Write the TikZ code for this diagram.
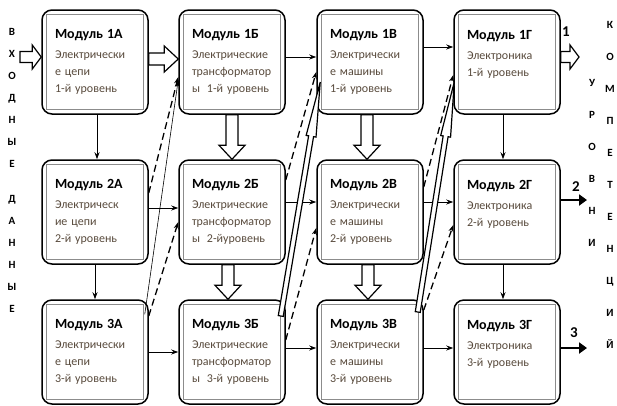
\documentclass[tikz,border=0pt]{standalone}
\usepackage{fontspec}
\setmainfont{Carlito}
\usetikzlibrary{arrows.meta, calc}

\definecolor{bodybrown}{RGB}{88, 74, 60}
\definecolor{innergray}{RGB}{140, 140, 140}

% module title line
\newcommand{\modtitle}[1]{{\color{black}\bfseries\fontsize{14}{17}\selectfont #1}\\[3pt]}

% hollow block arrow: from, to, half shaft, half head, head length
\newcommand{\hollowarrow}[5]{%
  \path let \p1=#1, \p2=#2 in \pgfextra{%
    \pgfmathsetmacro\tmpang{atan2(\y2-\y1,\x2-\x1)}\xdef\haang{\tmpang}%
    \pgfmathsetmacro\tmplen{veclen(\x2-\x1,\y2-\y1)}\xdef\halen{\tmplen}};
  \begin{scope}[shift={#1}, rotate=\haang]
    \draw[fatarrow] (0pt,-#3) -- ({\halen pt-#5},-#3) -- ({\halen pt-#5},-#4)
      -- (\halen pt,0pt) -- ({\halen pt-#5},#4) -- ({\halen pt-#5},#3) -- (0pt,#3) -- cycle;
  \end{scope}}

\begin{document}
\begin{tikzpicture}[x=1pt, y=-1pt,
  module/.style={draw, line width=1.5pt, rounded corners=10pt,
    minimum width=106pt, minimum height=104pt, text width=80pt, inner xsep=13pt,
    align=left, text=bodybrown, font=\fontsize{12}{17}\selectfont,
    path picture={\draw[innergray, line width=1pt, sharp corners]
      ([shift={(4.5pt,-4.5pt)}]path picture bounding box.north west) rectangle
      ([shift={(-4.5pt,4.5pt)}]path picture bounding box.south east);}},
  letters/.style={align=center, font=\fontsize{11}{22}\selectfont\bfseries, inner sep=0pt},
  link/.style={line width=1pt, -{Stealth[length=7pt, width=5pt]}},
  dashlink/.style={link, line width=1.3pt, dash pattern=on 7pt off 4pt},
  outlink/.style={line width=2.6pt, -{Triangle[length=8pt, width=11pt]}},
  fatarrow/.style={draw, line width=1.2pt, fill=white, line join=miter},
  outnum/.style={font=\fontsize{15}{15}\selectfont\bfseries, inner sep=0pt}]
  \useasboundingbox (0,0) rectangle (617,405);

  % first row
  \node[module] (m1a) at (95,62) {\modtitle{Модуль 1А}Электрически\\е цепи\\1-й уровень};
  \node[module] (m1b) at (232,62) {\modtitle{Модуль 1Б}Электрические\\трансформатор\\\mbox{ы\hspace{7pt}1-й уровень}};
  \node[module] (m1v) at (370,62) {\modtitle{Модуль 1В}Электрически\\е машины\\1-й уровень};
  \node[module] (m1g) at (507,62) {\modtitle{Модуль 1Г}Электроника\\1-й уровень\\\mbox{}};

  % second row
  \node[module] (m2a) at (95,212) {\modtitle{Модуль 2А}Электрическ\\ие цепи\\2-й уровень};
  \node[module] (m2b) at (232,212) {\modtitle{Модуль 2Б}Электрические\\трансформатор\\\mbox{ы\hspace{7pt}2-йуровень}};
  \node[module] (m2v) at (370,212) {\modtitle{Модуль 2В}Электрически\\е машины\\2-й уровень};
  \node[module] (m2g) at (507,212) {\modtitle{Модуль 2Г}Электроника\\2-й уровень\\\mbox{}};

  % third row
  \node[module] (m3a) at (95,352) {\modtitle{Модуль 3А}Электрически\\е цепи\\3-й уровень};
  \node[module] (m3b) at (232,352) {\modtitle{Модуль 3Б}Электрические\\трансформатор\\\mbox{ы\hspace{7pt}3-й уровень}};
  \node[module] (m3v) at (370,352) {\modtitle{Модуль 3В}Электрически\\е машины\\3-й уровень};
  \node[module] (m3g) at (507,352) {\modtitle{Модуль 3Г}Электроника\\3-й уровень\\\mbox{}};

  % side labels
  \node[letters] (inputs) at (12,170) {В\\Х\\О\\Д\\Н\\Ы\\Е\\[13pt]Д\\А\\Н\\Н\\Ы\\Е};
  \node[letters, font=\fontsize{11}{32}\selectfont\bfseries] (levels) at (592,163) {У\\Р\\О\\В\\Н\\И};
  \node[letters, font=\fontsize{11}{32}\selectfont\bfseries] (competencies) at (610,185) {К\\О\\М\\П\\Е\\Т\\Е\\Н\\Ц\\И\\Й};

  % outputs
  \coordinate (in) at (20,57);
  \coordinate (out1) at (579,57);
  \coordinate (out2) at (587,200);
  \coordinate (out3) at (587,348);
  \node[outnum] (n1) at (566,32) {1};
  \node[outnum] (n2) at (576,187) {2};
  \node[outnum] (n3) at (574,333) {3};

  % horizontal links
  \hollowarrow{(in)}{([yshift=5pt]m1a.west)}{5.5pt}{12pt}{9pt}
  \hollowarrow{([yshift=3pt]m1a.east)}{([yshift=3pt]m1b.west)}{6pt}{13pt}{14pt}
  \draw[link] ([yshift=5pt]m1b.east) -- ([yshift=5pt]m1v.west);
  \draw[link] ([yshift=15pt]m1v.east) -- ([yshift=15pt]m1g.west);
  \hollowarrow{([yshift=5pt]m1g.east)}{(out1)}{5.5pt}{12pt}{9pt}

  \draw[link] ([yshift=4pt]m2a.east) -- ([yshift=4pt]m2b.west);
  \draw[link] ([yshift=10pt]m2b.east) -- ([yshift=10pt]m2v.west);
  \draw[link] ([yshift=10pt]m2v.east) -- ([yshift=10pt]m2g.west);
  \draw[outlink] ([yshift=12pt]m2g.east) -- (out2);

  \draw[link] (m3a.east) -- (m3b.west);
  \draw[link] ([yshift=4pt]m3b.east) -- ([yshift=4pt]m3v.west);
  \draw[link] ([yshift=4pt]m3v.east) -- ([yshift=4pt]m3g.west);
  \draw[outlink] ([yshift=4pt]m3g.east) -- (out3);

  % vertical links
  \draw[link] ([xshift=2pt]m1a.south) -- ([xshift=2pt]m2a.north);
  \draw[link] (m2a.south) -- (m3a.north);
  \hollowarrow{(m1b.south)}{(m2b.north)}{6pt}{13pt}{14pt}
  \hollowarrow{([xshift=-4pt]m2b.south)}{([xshift=-4pt]m3b.north)}{6pt}{13pt}{14pt}
  \hollowarrow{([xshift=-3pt]m1v.south)}{([xshift=-3pt]m2v.north)}{6pt}{13pt}{14pt}
  \hollowarrow{([xshift=-2pt]m2v.south)}{([xshift=-2pt]m3v.north)}{6pt}{13pt}{14pt}
  \draw[link] ([xshift=-4pt]m1g.south) -- ([xshift=-4pt]m2g.north);
  \draw[link] ([xshift=-4pt]m2g.south) -- ([xshift=-4pt]m3g.north);

  % diagonal links
  \draw[link, line width=0.6pt] ([shift={(-4pt,-15pt)}]m3a.north east) -- ([yshift=-18pt]m1b.west);
  \draw[dashlink] ([yshift=19pt]m2a.east) -- ([yshift=-15pt]m1b.west);
  \draw[dashlink] ([yshift=36pt]m3a.east) -- ([yshift=-10pt]m2b.west);
  \hollowarrow{([shift={(-5pt,36pt)}]m3b.east)}{([shift={(4pt,-20pt)}]m1v.west)}{2.5pt}{5pt}{55pt}
  \draw[dashlink] ([yshift=32pt]m2b.east) -- ([yshift=-10pt]m1v.west);
  \draw[dashlink] ([yshift=12pt]m3b.east) -- ([yshift=-16pt]m2v.west);
  \hollowarrow{([shift={(-6pt,40pt)}]m3v.east)}{([shift={(1pt,-20pt)}]m1g.west)}{2.5pt}{5pt}{55pt}
  \draw[dashlink] ([yshift=25pt]m2v.east) -- ([yshift=-13pt]m1g.west);
  \draw[dashlink] ([yshift=42pt]m3v.east) -- ([yshift=-13pt]m2g.west);
\end{tikzpicture}
\end{document}
